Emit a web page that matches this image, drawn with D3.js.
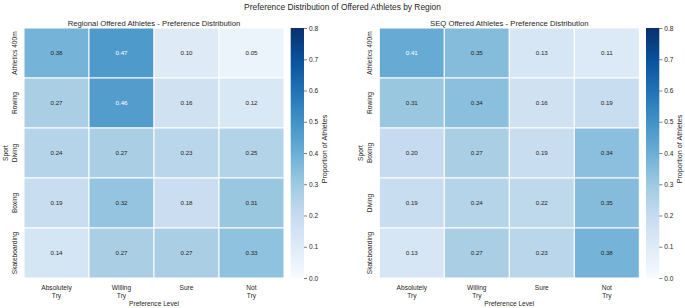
<!DOCTYPE html>
<html><head><meta charset="utf-8">
<script src="https://cdn.jsdelivr.net/npm/d3@7"></script>
<style>body{margin:0;background:#fff}svg{display:block;font-family:"Liberation Sans",Arial,sans-serif}</style>
</head><body><div id="chart"></div>
<script>
const preferences = ["Absolutely\nTry", "Willing\nTry", "Sure", "Not\nTry"];
const regionalSports = ["Athletics 400m", "Rowing", "Diving", "Boxing", "Skateboarding"];
const regionalValues = [
  [0.38, 0.47, 0.10, 0.05],
  [0.27, 0.46, 0.16, 0.12],
  [0.24, 0.27, 0.23, 0.25],
  [0.19, 0.32, 0.18, 0.31],
  [0.14, 0.27, 0.27, 0.33]
];
const seqSports = ["Athletics 400m", "Rowing", "Boxing", "Diving", "Skateboarding"];
const seqValues = [
  [0.41, 0.35, 0.13, 0.11],
  [0.31, 0.34, 0.16, 0.19],
  [0.20, 0.27, 0.19, 0.34],
  [0.19, 0.24, 0.22, 0.35],
  [0.13, 0.27, 0.23, 0.38]
];
const colorbarTicks = [0.0, 0.1, 0.2, 0.3, 0.4, 0.5, 0.6, 0.7, 0.8];
const titles = ["Regional Offered Athletes - Preference Distribution", "SEQ Offered Athletes - Preference Distribution"];

const W = 685, H = 308;
const svg = d3.select("#chart").append("svg").attr("width", W).attr("height", H);
const blues = ["#f7fbff","#deebf7","#c6dbef","#9ecae1","#6baed6","#4292c6","#2171b5","#08519c","#08306b"];
const color = d3.scaleLinear().domain(d3.range(9).map(i => i * 0.1)).range(blues).interpolate(d3.interpolateRgb).clamp(true);
const textDark = "#262626";

function lum(c) {
  const r = d3.rgb(c);
  const f = v => { v /= 255; return v <= 0.03928 ? v / 12.92 : Math.pow((v + 0.055) / 1.055, 2.4); };
  return 0.2126 * f(r.r) + 0.7152 * f(r.g) + 0.0722 * f(r.b);
}

svg.append("text").attr("x", 342.5).attr("y", 10).attr("text-anchor", "middle")
  .attr("font-size", 8.4).attr("fill", textDark).text("Preference Distribution of Offered Athletes by Region");

const defs = svg.append("defs");
const grad = defs.append("linearGradient").attr("id", "cbgrad").attr("x1", 0).attr("y1", 1).attr("x2", 0).attr("y2", 0);
blues.forEach((c, i) => grad.append("stop").attr("offset", i / 8).attr("stop-color", c));

function panel(x0, sports, values, title) {
  const top = 28, bottom = 278, width = 260;
  const x = d3.scaleBand().domain(d3.range(preferences.length)).range([x0, x0 + width]);
  const y = d3.scaleBand().domain(sports).range([top, bottom]);
  const g = svg.append("g");
  sports.forEach((s, ri) => {
    values[ri].forEach((v, ci) => {
      const c = color(v);
      g.append("rect").attr("x", x(ci)).attr("y", y(s)).attr("width", x.bandwidth()).attr("height", y.bandwidth())
        .attr("fill", c).attr("stroke", "#fff").attr("stroke-width", 1);
      g.append("text").attr("x", x(ci) + x.bandwidth() / 2).attr("y", y(s) + y.bandwidth() / 2).attr("dy", "0.35em")
        .attr("text-anchor", "middle").attr("font-size", 6.2)
        .attr("fill", lum(c) > 0.408 ? textDark : "#ffffff").text(v.toFixed(2));
    });
  });
  svg.append("text").attr("x", x0 + width / 2).attr("y", 25.5).attr("text-anchor", "middle")
    .attr("font-size", 7.7).attr("fill", textDark).text(title);
  preferences.forEach((p, ci) => {
    const lines = p.split("\n");
    const t = svg.append("text").attr("text-anchor", "middle").attr("font-size", 6.6).attr("fill", textDark);
    lines.forEach((l, li) => t.append("tspan").attr("x", x(ci) + x.bandwidth() / 2).attr("y", 290 + li * 8).text(l));
  });
  svg.append("text").attr("x", x0 + width / 2).attr("y", 305.5).attr("text-anchor", "middle")
    .attr("font-size", 6.6).attr("fill", textDark).text("Preference Level");
  sports.forEach(s => {
    const cy = y(s) + y.bandwidth() / 2;
    svg.append("text").attr("transform", `translate(${x0 - 7.5},${cy}) rotate(-90)`).attr("text-anchor", "middle")
      .attr("font-size", 6.6).attr("fill", textDark).text(s);
  });
  svg.append("text").attr("transform", `translate(${x0 - 16},${(top + bottom) / 2}) rotate(-90)`).attr("text-anchor", "middle")
    .attr("font-size", 6.6).attr("fill", textDark).text("Sport");
  const cbx = x0 + width + 6.7, cbw = 13.3;
  const cs = d3.scaleLinear().domain([0, 0.8]).range([bottom, top]);
  svg.append("rect").attr("x", cbx).attr("y", top).attr("width", cbw).attr("height", bottom - top).attr("fill", "url(#cbgrad)");
  const ax = d3.axisRight(cs).tickValues(colorbarTicks).tickFormat(d3.format(".1f")).tickSize(3).tickPadding(2);
  const ag = svg.append("g").attr("transform", `translate(${cbx + cbw},0)`).call(ax);
  ag.select(".domain").remove();
  ag.selectAll("line").attr("stroke", textDark).attr("stroke-width", 0.6);
  ag.selectAll("text").attr("font-size", 6.6).attr("fill", textDark).attr("font-family", "Liberation Sans, Arial, sans-serif");
  svg.append("text").attr("transform", `translate(${cbx + cbw + 22.5},${(top + bottom) / 2 - 4}) rotate(-90)`).attr("text-anchor", "middle")
    .attr("font-size", 7.2).attr("fill", textDark).text("Proportion of Athletes");
}

panel(24, regionalSports, regionalValues, titles[0]);
panel(379.3, seqSports, seqValues, titles[1]);
</script></body></html>
